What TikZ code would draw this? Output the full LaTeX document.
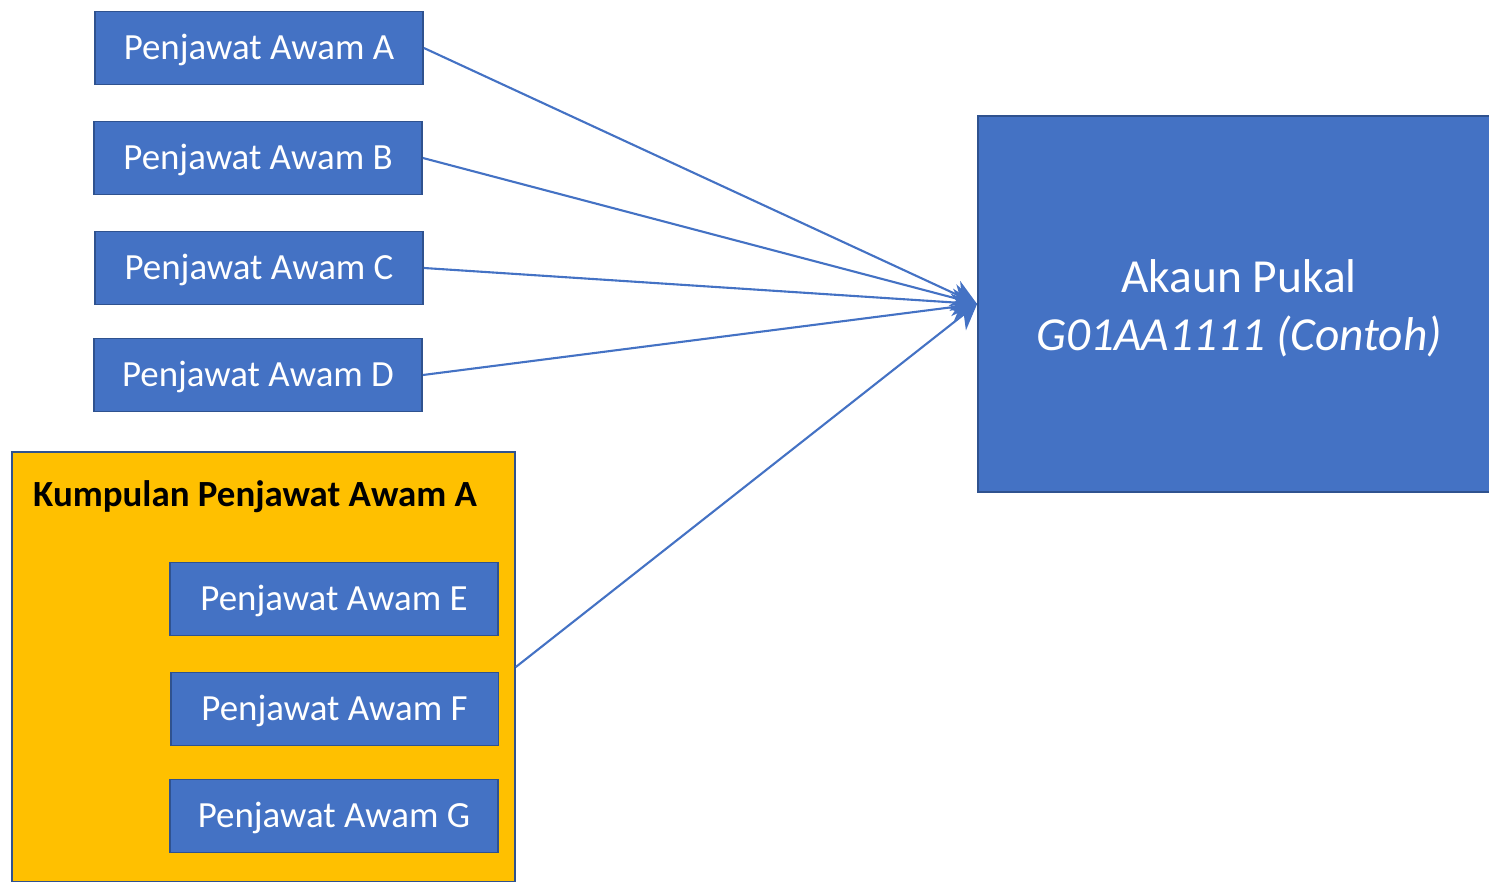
\documentclass[tikz,border=0pt]{standalone}
\usepackage{fontspec}
\setmainfont{Carlito}
\usetikzlibrary{positioning, arrows.meta}

\definecolor{boxblue}{HTML}{4472C4}
\definecolor{boxedge}{HTML}{2F528F}
\definecolor{groupgold}{HTML}{FFC000}

\begin{document}
\begin{tikzpicture}[
    x=0.02cm, y=-0.02cm,
    arrow/.style={-{Stealth[length=5mm, width=5.5mm]}, line width=1.2pt, boxblue},
    staff/.style={draw=boxedge, line width=1.1pt, fill=boxblue, text=white,
        minimum width=6.56cm, minimum height=1.46cm, inner sep=0pt,
        text height=18pt, text depth=4.5pt,
        font=\fontsize{21}{25}\selectfont},
    group/.style={draw=boxedge, line width=1pt, fill=groupgold,
        minimum width=10.06cm, minimum height=8.6cm, inner sep=0pt},
    account/.style={draw=boxedge, line width=1.1pt, fill=boxblue, text=white,
        minimum width=10.44cm, minimum height=7.52cm, inner sep=0pt, align=center,
        font=\fontsize{27}{33}\selectfont}
]
    \clip (0,0) rectangle (1489,882);
    \useasboundingbox (0,0) rectangle (1489,882);

    % Individual officers
    \node[staff] (pA) at (259,48) {Penjawat Awam A};
    \node[staff] (pB) at (258,158) {Penjawat Awam B};
    \node[staff] (pC) at (259,268) {Penjawat Awam C};
    \node[staff] (pD) at (258,375) {Penjawat Awam D};

    % Group of officers
    \node[group] (grp) at (263.5,667) {};
    \node[anchor=west, font=\fontsize{21}{25}\selectfont\bfseries] (grptitle) at (27,497) {Kumpulan Penjawat Awam A};
    \node[staff] (pE) at (334,599) {Penjawat Awam E};
    \node[staff] (pF) at (334.5,709) {Penjawat Awam F};
    \node[staff] (pG) at (334,816) {Penjawat Awam G};

    % Bulk account
    \node[account] (akaun) at (1239,304) {\rule{0pt}{23.5pt}Akaun Pukal\\\itshape G01AA1111 (Contoh)};

    % Links into the account
    \foreach \src in {pA, pB, pC, pD, grp}
        \draw[arrow] (\src.east) -- (akaun.west);

\end{tikzpicture}
\end{document}
